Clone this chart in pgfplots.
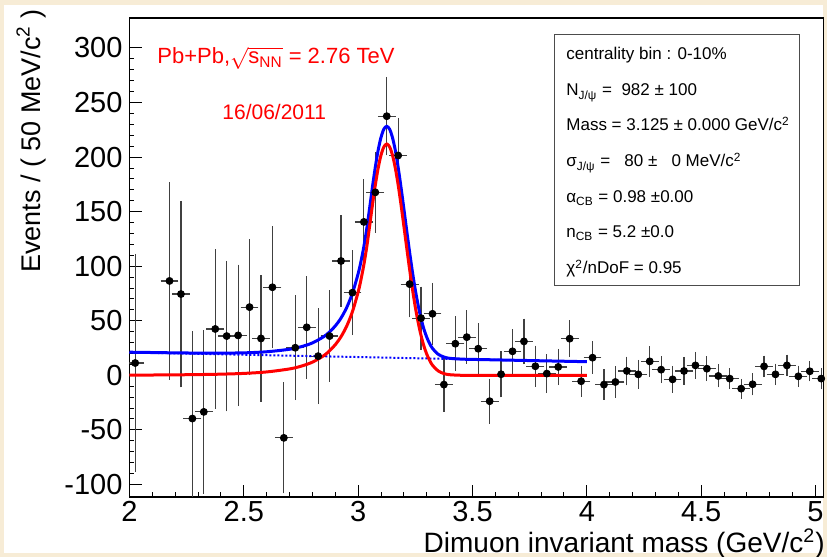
\documentclass[border=0pt]{standalone}
\usepackage{fontspec}
\setmainfont{Liberation Sans}
\usepackage{amsmath}
\usepackage{pgfplots}
\pgfplotsset{compat=1.18}
\usepackage{pgfplotstable}
\definecolor{beige}{HTML}{F7ECD6}
\definecolor{rootred}{RGB}{255,0,0}
\definecolor{rootblue}{RGB}{0,0,255}

\pgfplotstableread{
x y ex ey
2.025 11.3 0.025 97
2.175 86.5 0.025 87.5
2.225 74.5 0.025 82.5
2.275 -39.6 0.025 77
2.325 -33.5 0.025 72
2.375 42.5 0.025 70
2.425 36.0 0.025 66
2.475 36.6 0.025 62
2.525 62.5 0.025 59.5
2.575 33.8 0.025 55
2.625 80.7 0.025 53
2.675 -57.3 0.025 48
2.725 25.3 0.025 45
2.775 44.0 0.025 44
2.825 17.6 0.025 41
2.875 36.0 0.025 39
2.925 104.8 0.025 39
2.975 75.8 0.025 36
3.025 140.6 0.025 36
3.075 167.7 0.025 34
3.125 237.5 0.025 33
3.175 201.5 0.025 31.5
3.225 83.6 0.025 27.5
3.275 52.4 0.025 26
3.325 56.4 0.025 25.5
3.375 -8.5 0.025 22
3.425 29.0 0.025 22
3.475 35.0 0.025 21.5
3.525 24.4 0.025 20.3
3.575 -23.7 0.025 17.7
3.625 1.0 0.025 18.2
3.675 22.0 0.025 17.5
3.725 31.1 0.025 18
3.775 8.3 0.025 16
3.825 1.6 0.025 15
3.875 7.7 0.025 13.7
3.925 33.6 0.025 14
3.975 -5.4 0.025 11.4
4.025 16.2 0.025 12
4.075 -8.5 0.025 11
4.125 -6.1 0.025 11.6
4.175 4.0 0.025 10.2
4.225 0.9 0.025 10.3
4.275 12.8 0.025 11
4.325 5.2 0.025 9.5
4.375 -3.7 0.025 9.2
4.425 4.0 0.025 9.9
4.475 9.1 0.025 9.5
4.525 6.1 0.025 8.4
4.575 -0.6 0.025 7.6
4.625 -3.0 0.025 6.7
4.675 -12.2 0.025 6.1
4.725 -8.2 0.025 7.3
4.775 8.2 0.025 6.9
4.825 0.9 0.025 6.9
4.875 9.1 0.025 6.9
4.925 -0.9 0.025 6.9
4.975 3.7 0.025 6.4
5.025 -3.0 0.025 6.9
}\datatab

\pgfplotstableread{
x red blue
2.00 0.2 21.2
2.10 0.3 20.9
2.20 0.44 20.6
2.30 0.7 20.4
2.40 1.07 20.4
2.50 1.77 20.6
2.60 3.12 21.6
2.70 5.89 23.9
2.75 8.35 26.2
2.80 12.1 29.7
2.85 18.1 35.5
2.875 22.5 39.8
2.90 28.1 45.3
2.925 35.4 52.5
2.95 45.2 62.2
2.975 58.4 75.3
3.00 76.4 93.2
3.0125 87.9 104.6
3.025 101.5 118.1
3.0375 117.6 134.2
3.05 136.6 153.1
3.0625 156.2 172.7
3.075 174.4 190.8
3.0875 190.0 206.4
3.10 201.9 218.2
3.1125 209.4 225.7
3.125 212.0 228.2
3.1375 209.4 225.6
3.15 201.9 218.0
3.1625 190.0 206.1
3.175 174.4 190.4
3.1875 156.2 172.2
3.20 136.6 152.5
3.2125 116.6 132.4
3.225 97.1 112.9
3.2375 78.9 94.6
3.25 62.5 78.2
3.2625 48.4 64.0
3.275 36.5 52.1
3.2875 26.9 42.4
3.30 19.4 34.9
3.3125 13.7 29.1
3.325 9.3 24.7
3.35 4.06 19.3
3.375 1.60 16.8
3.40 0.58 15.6
3.45 0.05 14.9
3.50 0.0 14.6
4.00 0.0 12.5
}\fittab

\pgfplotstableread{
x bkg
2.0 21.0
4.0 12.5
}\bkgtab

\begin{document}
\begin{tikzpicture}
\path[use as bounding box, fill=beige] (0,0) rectangle (413.5pt,278.5pt);
\fill[white] (2pt,2pt) rectangle (411.5pt,276pt);
\begin{axis}[
  at={(64.75pt,30pt)}, anchor=south west,
  scale only axis, width=347pt, height=239.5pt,
  xmin=2, xmax=5.035, ymin=-111.5, ymax=327.5,
  axis line style={black, line width=0.6pt},
  xtick={2,2.5,3,3.5,4,4.5,5}, ytick={-100,-50,0,50,100,150,200,250,300},
  minor x tick num=4, minor y tick num=4,
  tick align=inside, tick pos=left,
  major tick length=6pt, minor tick length=2.5pt,
  tick style={black, line width=0.5pt},
  ticklabel style={font=\fontsize{14.5}{17}\selectfont},
  xticklabel style={inner sep=1pt, yshift=-1pt},
  /pgf/number format/assume math mode=true,
  clip=true,
]
\addplot[only marks, mark=*, mark size=1.75pt, black,
  error bars/.cd, x dir=both, x explicit, y dir=both, y explicit,
  error bar style={black!75, line width=0.6pt},
  error mark options={black!75, mark size=1.6pt, line width=0.6pt}]
  table[x=x, y=y, x error=ex, y error=ey] {\datatab};
\addplot[rootblue, line width=1pt, densely dotted] table[x=x, y=bkg] {\bkgtab};
\addplot[rootblue, line width=1.5pt, smooth] table[x=x, y=blue] {\fittab};
\addplot[rootred, line width=1.5pt, smooth] table[x=x, y=red] {\fittab};
\end{axis}

% stat box
\draw[black!70, line width=0.5pt, fill=white] (277pt,261pt) rectangle (399.5pt,135.5pt);
\begin{scope}[every node/.style={anchor=base west, inner sep=0pt, font=\fontsize{8.5}{10}\selectfont}]
\node at (283pt,248.5pt) {centrality bin : 0-10\%};
\node at (283pt,230.5pt) {N\textsubscript{J/ψ} =\ \ 982 ± 100};
\node at (283pt,213pt) {Mass = 3.125 ± 0.000 GeV/c\textsuperscript{2}};
\node at (283pt,195pt) {σ\textsubscript{J/ψ} =\ \ \ 80 ±\ \ \ 0 MeV/c\textsuperscript{2}};
\node at (283pt,177pt) {α\textsubscript{CB} = 0.98 ±0.00};
\node at (283pt,159.5pt) {n\textsubscript{CB} = 5.2 ±0.0};
\node at (283pt,141.5pt) {χ\textsuperscript{2}/nDoF = 0.95};
\end{scope}

% red annotations
\node[anchor=base west, inner sep=0pt, text=rootred, font=\fontsize{11}{13}\selectfont]
  at (78.5pt,246.5pt) {Pb+Pb,$\sqrt{\text{s}_{\text{NN}}}$ = 2.76 TeV};
\node[anchor=base west, inner sep=0pt, text=rootred, font=\fontsize{10.5}{12}\selectfont]
  at (111pt,218.5pt) {16/06/2011};

% axis titles
\node[anchor=base east, inner sep=0pt, font=\fontsize{14}{16}\selectfont]
  at (412.5pt,2pt) {Dimuon invariant mass (GeV/c\textsuperscript{2})};
\node[rotate=90, anchor=base, inner sep=0pt, font=\fontsize{13.5}{16}\selectfont]
  at (20pt,208pt) {Events / ( 50 MeV/c\textsuperscript{2} )};
\end{tikzpicture}
\end{document}
